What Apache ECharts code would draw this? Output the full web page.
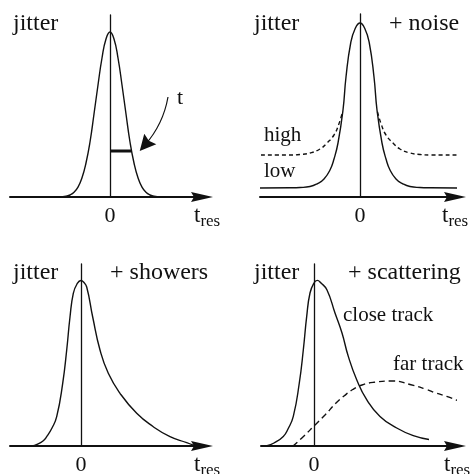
<!DOCTYPE html>
<html>
<head>
<meta charset="utf-8">
<style>
  html, body { margin: 0; padding: 0; background: #fff; }
  #chart { width: 473px; height: 474px; }
</style>
<script src="https://cdn.jsdelivr.net/npm/echarts@6/dist/echarts.min.js"></script>
</head>
<body>
<div id="chart"></div>
<script>
// readings: [t_res offset from the zero line, height above the axis]
const jitter = [[-56, 0], [-48, 0.3], [-44, 0.8], [-40, 2], [-36, 4.7], [-32, 9.9], [-28, 19.2], [-24, 34],
  [-20, 55], [-16, 83], [-12, 112], [-8, 139], [-4, 158], [0, 165], [4, 158], [8, 139], [12, 112],
  [16, 83], [20, 55], [24, 34], [28, 19.2], [32, 9.9], [36, 4.7], [40, 2], [44, 0.8], [48, 0.3], [56, 0]];
const timeBar = [[0, 46], [21.5, 46]];
const timeArrow = [[58, 100], [35, 52]];

const noiseLow = [[-100, 9], [-70, 9.2], [-60, 9.5], [-50, 10.5], [-42, 13.7], [-36, 18], [-30, 27], [-26, 38],
  [-22, 54], [-17, 87], [-14, 120], [-9.3, 154], [-5, 168], [0, 174], [5, 168], [9.3, 154], [14, 120],
  [17, 87], [22, 54], [26, 38], [30, 27], [36, 18], [42, 13.7], [50, 10.5], [60, 9.5], [70, 9.2], [99, 9]];
const noiseHighLeft = [[-99, 42], [-70, 42], [-60, 42.5], [-50, 44], [-40, 48], [-33, 54], [-26, 62], [-21.5, 72], [-17.5, 85]];
const noiseHighRight = [[17.5, 85], [21.5, 72], [26, 62], [33, 54], [40, 48], [50, 44], [60, 42.5], [70, 42], [99, 42]];

const showers = [[-49, 0], [-44, 1.5], [-38, 5], [-34.3, 9.3], [-29, 18], [-24.3, 29.3], [-18.3, 62.7],
  [-14.3, 96], [-11, 129], [-7.7, 152.7], [-4, 162], [0, 165.5], [2.5, 164], [5.7, 159], [11.7, 129],
  [19, 96], [27.3, 72.7], [39, 52.7], [55.7, 32.7], [72.3, 19.3], [89, 9.3], [105.7, 3.3], [113, 0.5]];

const closeTrack = [[-47, 0.3], [-40, 3], [-30.7, 9.6], [-26, 17], [-20.7, 29.6], [-14.7, 63], [-10.7, 96],
  [-7.3, 129.6], [-4, 153], [0, 163], [3.3, 165.6], [7, 163], [13, 156], [21, 133], [28, 113], [34.3, 89.6],
  [42.7, 66.3], [52.7, 46.3], [66, 29.6], [82.7, 18], [99.3, 10.3], [115, 6.5]];
const farTrack = [[-21, 0], [-10, 10], [0, 20], [11, 31], [22, 43], [30, 50], [38.7, 56.5], [48, 61], [60, 63.7],
  [79, 65], [96, 61.5], [112.7, 56.5], [122, 53], [132.7, 49.6], [149, 43.4], [154, 41.5]];

const font = 'Liberation Serif';
const ink = '#111';
const arrowHead = 'path://M5,0L10,22L5,19L0,22Z';

const panels = [
  { left: 10, top: 15, width: 192, height: 182, min: -100, max: 92, gap: -8 },
  { left: 260, top: 14, width: 195, height: 183, min: -100, max: 95, gap: -13 },
  { left: 10, top: 264, width: 192, height: 182, min: -71, max: 121, gap: -8 },
  { left: 261, top: 264, width: 194, height: 182, min: -53, max: 141, gap: -11 }
];

function curve(idx, data, dash) {
  return {
    type: 'line',
    xAxisIndex: idx,
    yAxisIndex: idx,
    data: data,
    smooth: true,
    showSymbol: false,
    clip: false,
    silent: true,
    lineStyle: { color: ink, width: 1.4, type: dash || 'solid' }
  };
}

function text(str, x, baseline, size) {
  return {
    type: 'text',
    x: x,
    y: baseline - 0.305 * size,
    silent: true,
    style: { text: str, fontFamily: font, fontSize: size, fill: ink, textVerticalAlign: 'middle' }
  };
}

const bar = curve(0, timeBar);
bar.smooth = false;
bar.lineStyle.width = 3;

const arrow = {
  type: 'lines',
  coordinateSystem: 'cartesian2d',
  xAxisIndex: 0,
  yAxisIndex: 0,
  silent: true,
  symbol: ['none', arrowHead],
  symbolSize: [9, 16],
  lineStyle: { color: ink, width: 1.2, opacity: 1, curveness: 0.14 },
  data: [{ coords: timeArrow }]
};

const chart = echarts.init(document.getElementById('chart'));
chart.setOption({
  animation: false,
  backgroundColor: '#fff',
  grid: panels.map(p => ({
    left: p.left, top: p.top, width: p.width, height: p.height,
    containLabel: false, outerBoundsMode: 'none'
  })),
  xAxis: panels.map((p, i) => ({
    gridIndex: i,
    type: 'value',
    min: p.min,
    max: p.max,
    axisLine: {
      onZero: false,
      lineStyle: { color: ink, width: 2 },
      symbol: ['none', arrowHead],
      symbolSize: [10, 22]
    },
    axisTick: { show: false },
    splitLine: { show: false },
    axisLabel: {
      customValues: [0],
      formatter: v => (v === 0 ? '0' : ''),
      margin: 8,
      fontSize: 22,
      fontFamily: font,
      color: ink
    },
    name: '{t|t}{s|res}',
    nameLocation: 'end',
    nameGap: p.gap,
    nameTextStyle: {
      align: 'left',
      verticalAlign: 'top',
      padding: [7, 0, 0, 0],
      rich: {
        t: { fontSize: 23, fontFamily: font, color: ink, verticalAlign: 'bottom', padding: [0, 0, 3, 0] },
        s: { fontSize: 17, fontFamily: font, color: ink, verticalAlign: 'bottom' }
      }
    }
  })),
  yAxis: panels.map((p, i) => ({
    gridIndex: i,
    type: 'value',
    min: 0,
    max: p.height,
    axisLine: { show: true, onZero: true, lineStyle: { color: ink, width: 1.3 } },
    axisTick: { show: false },
    axisLabel: { show: false },
    splitLine: { show: false }
  })),
  series: [
    curve(0, jitter),
    bar,
    arrow,
    curve(1, noiseLow),
    curve(1, noiseHighLeft, [4, 3]),
    curve(1, noiseHighRight, [4, 3]),
    curve(2, showers),
    curve(3, closeTrack),
    curve(3, farTrack, [6, 4])
  ],
  graphic: [
    text('jitter', 13, 31, 24),
    text('t', 177, 105, 22),
    text('jitter', 254, 31, 24),
    text('+ noise', 389, 31, 24),
    text('high', 264, 142, 21),
    text('low', 264, 178, 21),
    text('jitter', 13, 280, 24),
    text('+ showers', 110, 280, 24),
    text('jitter', 254, 280, 24),
    text('+ scattering', 348, 280, 24),
    text('close track', 343, 322, 21),
    text('far track', 393, 371, 21)
  ]
});
</script>
</body>
</html>
